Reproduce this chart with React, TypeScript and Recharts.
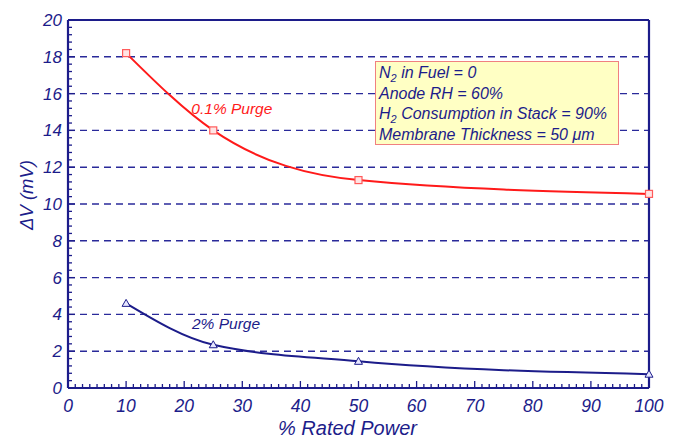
import {
  LineChart,
  Line,
  XAxis,
  YAxis,
  ReferenceLine,
  ReferenceDot,
} from 'recharts'

const NAVY = '#1c1c8a'
const RED = '#ff1a1a'
const FONT = '"Liberation Sans", Arial, sans-serif'

// % rated power and ΔV (mV) for the two purge rates
const power = [10, 25, 50, 100]
const purgeLow = [18.2, 14.0, 11.3, 10.55]
const purgeHigh = [4.6, 2.35, 1.45, 0.75]

const xMajor = [0, 10, 20, 30, 40, 50, 60, 70, 80, 90, 100]
const yMajor = [0, 2, 4, 6, 8, 10, 12, 14, 16, 18, 20]
const gridLines = [2, 4, 6, 8, 10, 12, 14, 16, 18]

// minor ticks: 8 per x division, 5 per y division
const xTicks: number[] = []
for (let i = 0; i <= 80; i++) xTicks.push(Number((i * 1.25).toFixed(2)))
const yTicks: number[] = []
for (let i = 0; i <= 50; i++) yTicks.push(Number((i * 0.4).toFixed(1)))

const data = power.map((p, i) => ({ power: p, low: purgeLow[i], high: purgeHigh[i] }))

const YTick = (p: any) => {
  const v = p.payload.value
  const major = yMajor.includes(v)
  const ax = p.x + 6
  return (
    <g>
      <line x1={ax} y1={p.y} x2={ax + (major ? 7 : 4)} y2={p.y} stroke={NAVY} strokeWidth={1.3} />
      {major && (
        <text x={p.x} y={p.y} dy={6} textAnchor="end" fill={NAVY} fontSize={17} fontStyle="italic" fontFamily={FONT}>
          {v}
        </text>
      )}
    </g>
  )
}

const XTick = (p: any) => {
  const v = p.payload.value
  const major = xMajor.includes(v)
  const ay = p.y - 6
  return (
    <g>
      <line x1={p.x} y1={ay} x2={p.x} y2={ay - (major ? 7 : 4)} stroke={NAVY} strokeWidth={1.3} />
      {major && (
        <text x={p.x} y={ay + 24} textAnchor="middle" fill={NAVY} fontSize={17.5} fontStyle="italic" fontFamily={FONT}>
          {v}
        </text>
      )}
    </g>
  )
}

const SquareDot = (p: any) => {
  if (p.cx == null) return <g key={`s${p.index}`} />
  return (
    <rect
      key={`s${p.index}`}
      x={p.cx - 3.5}
      y={p.cy - 3.5}
      width={7}
      height={7}
      fill="#ffe4e4"
      stroke="#ff5a5a"
      strokeWidth={1.2}
    />
  )
}

const TriDot = (p: any) => {
  if (p.cx == null) return <g key={`t${p.index}`} />
  const { cx, cy } = p
  return (
    <polygon
      key={`t${p.index}`}
      points={`${cx},${cy - 4} ${cx - 4},${cy + 3} ${cx + 4},${cy + 3}`}
      fill="#e6e6ff"
      stroke={NAVY}
      strokeWidth={1}
    />
  )
}

const sub = { fontSize: 11, position: 'relative' as const, top: 4 }

export default function App() {
  return (
    <div style={{ position: 'absolute', left: 0, top: 0, width: 680, height: 441, background: '#fff' }}>
      <LineChart width={680} height={441} data={data} margin={{ top: 20, right: 31, bottom: 0, left: 0 }}>
        <XAxis
          type="number"
          dataKey="power"
          domain={[0, 100]}
          ticks={xTicks}
          interval={0}
          tick={<XTick />}
          tickLine={false}
          tickSize={0}
          tickMargin={6}
          height={53}
          axisLine={{ stroke: NAVY, strokeWidth: 2.2 }}
          label={{
            content: (lp: any) => (
              <text
                x={lp.viewBox.x + lp.viewBox.width / 2 - 11}
                y={lp.viewBox.y + 47}
                textAnchor="middle"
                fill={NAVY}
                fontSize={20}
                fontStyle="italic"
                fontFamily={FONT}
              >
                % Rated Power
              </text>
            ),
          }}
        />
        <YAxis
          type="number"
          domain={[0, 20]}
          ticks={yTicks}
          interval={0}
          tick={<YTick />}
          tickLine={false}
          tickSize={0}
          tickMargin={6}
          width={68}
          axisLine={{ stroke: NAVY, strokeWidth: 2.2 }}
          label={{
            content: (lp: any) => {
              const cx = lp.viewBox.x + 26
              const cy = lp.viewBox.y + lp.viewBox.height / 2 - 9
              return (
                <text
                  x={cx}
                  y={cy}
                  transform={`rotate(-90 ${cx} ${cy})`}
                  textAnchor="middle"
                  dominantBaseline="central"
                  fill={NAVY}
                  fontSize={18.5}
                  fontStyle="italic"
                  fontFamily={FONT}
                >
                  ΔV (mV)
                </text>
              )
            },
          }}
        />
        {gridLines.map((g) => (
          <ReferenceLine key={g} y={g} stroke="#2a2a9a" strokeWidth={1.4} strokeDasharray="7 5" />
        ))}
        <ReferenceLine y={20} stroke={NAVY} strokeWidth={2.2} />
        <ReferenceLine x={100} stroke={NAVY} strokeWidth={2.2} />
        <Line
          type="monotone"
          dataKey="low"
          stroke={RED}
          strokeWidth={2}
          dot={SquareDot}
          activeDot={false}
          isAnimationActive={false}
        />
        <Line
          type="monotone"
          dataKey="high"
          stroke={NAVY}
          strokeWidth={2}
          dot={TriDot}
          activeDot={false}
          isAnimationActive={false}
        />
        <ReferenceDot
          x={28.2}
          y={15.2}
          r={0}
          fill="none"
          stroke="none"
          label={{ value: '0.1% Purge', position: 'center', fill: RED, fontSize: 15.5, fontStyle: 'italic', fontFamily: FONT }}
        />
        <ReferenceDot
          x={27.2}
          y={3.5}
          r={0}
          fill="none"
          stroke="none"
          label={{ value: '2% Purge', position: 'center', fill: NAVY, fontSize: 15.5, fontStyle: 'italic', fontFamily: FONT }}
        />
      </LineChart>
      <div
        style={{
          position: 'absolute',
          left: 375,
          top: 61,
          width: 244,
          height: 84,
          boxSizing: 'border-box',
          background: '#ffffc4',
          border: '1.5px solid #f08080',
          padding: '1px 0 0 3px',
          color: NAVY,
          fontFamily: FONT,
          fontStyle: 'italic',
          fontSize: 16,
          lineHeight: '20px',
          whiteSpace: 'nowrap',
        }}
      >
        <div>
          N<span style={sub}>2</span> in Fuel = 0
        </div>
        <div>Anode RH = 60%</div>
        <div>
          H<span style={sub}>2</span> Consumption in Stack = 90%
        </div>
        <div>Membrane Thickness = 50 μm</div>
      </div>
    </div>
  )
}
